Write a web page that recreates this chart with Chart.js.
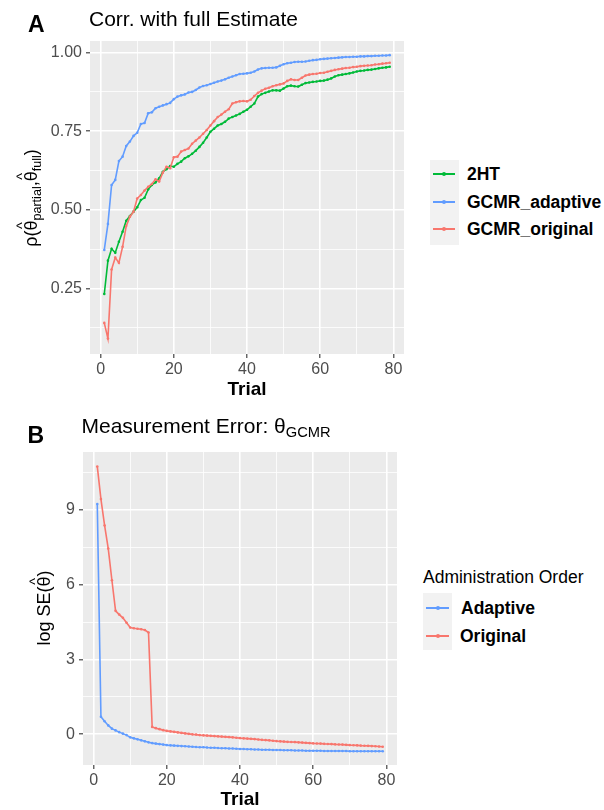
<!DOCTYPE html>
<html>
<head>
<meta charset="utf-8">
<script src="https://cdn.jsdelivr.net/npm/chart.js@4.4.0/dist/chart.umd.min.js"></script>
<style>
  body { margin: 0; background: #fff; font-family: "Liberation Sans", Arial, sans-serif; }
  #wrap { position: relative; width: 604px; height: 810px; overflow: hidden; }
  canvas { position: absolute; left: 0; }
  .t { position: absolute; white-space: nowrap; color: #000; }
  .lbl { font-weight: bold; font-size: 23px; line-height: 23px; }
  .title { font-size: 21px; line-height: 21px; }
  .xt { font-weight: bold; font-size: 19px; line-height: 19px; transform: translateX(-50%); }
  .yt { font-size: 18px; line-height: 20px; transform: translate(-50%, -50%) rotate(-90deg); }
  .yt sub, .title sub { font-size: 0.7em; vertical-align: -0.3em; line-height: 0; }
  .hat { position: relative; display: inline-block; }
  .hat i { position: absolute; left: 0; right: 0; top: -0.62em; text-align: center; font-style: normal; font-size: 0.8em; }
  .box { position: absolute; background: #f2f2f2; }
  .key { position: absolute; height: 2px; }
  .key b { position: absolute; left: 50%; top: -1px; width: 4px; height: 4px; margin-left: -2px; border-radius: 2px; background: inherit; }
  .lg { font-size: 17.5px; line-height: 20px; }
  .lg.b { font-weight: bold; }
</style>
</head>
<body>
<div id="wrap">
  <canvas id="chartA" width="420" height="400" style="top:0"></canvas>
  <canvas id="chartB" width="420" height="410" style="top:400px"></canvas>

  <div class="t lbl" style="left:28px;top:12.5px">A</div>
  <div class="t title" style="left:89px;top:8px">Corr. with full Estimate</div>
  <div class="t xt" style="left:247px;top:379px">Trial</div>
  <div class="t yt" style="left:31px;top:197.5px">ρ(<span class="hat">θ<i>^</i></span><sub>partial</sub>,<span class="hat">θ<i>^</i></span><sub>full</sub>)</div>

  <div class="box" style="left:430px;top:160px;width:29px;height:85px"></div>
  <div class="key" style="left:433px;top:173px;width:22px;background:#00BA38"><b></b></div>
  <div class="key" style="left:433px;top:200.7px;width:22px;background:#619CFF"><b></b></div>
  <div class="key" style="left:433px;top:228px;width:22px;background:#F8766D"><b></b></div>
  <div class="t lg b" style="left:467px;top:164.2px">2HT</div>
  <div class="t lg b" style="left:467px;top:191.9px">GCMR_adaptive</div>
  <div class="t lg b" style="left:467px;top:219.2px">GCMR_original</div>

  <div class="t lbl" style="left:27.5px;top:423.5px">B</div>
  <div class="t title" style="left:81.5px;top:415px">Measurement Error: θ<sub>GCMR</sub></div>
  <div class="t xt" style="left:240px;top:789px">Trial</div>
  <div class="t yt" style="left:44px;top:608px">log SE(<span class="hat">θ<i>^</i></span>)</div>

  <div class="t lg" style="left:423px;top:567.2px">Administration Order</div>
  <div class="box" style="left:423px;top:593px;width:29px;height:57px"></div>
  <div class="key" style="left:426px;top:607px;width:23px;background:#619CFF"><b></b></div>
  <div class="key" style="left:426px;top:635px;width:23px;background:#F8766D"><b></b></div>
  <div class="t lg b" style="left:461px;top:598.2px">Adaptive</div>
  <div class="t lg b" style="left:460px;top:625.5px">Original</div>
</div>

<script>
// trial index 1..79
const trials = Array.from({ length: 79 }, (_, i) => i + 1);

// panel A: correlation with full estimate
const corr2HT = [
  0.232, 0.338, 0.376, 0.363, 0.398, 0.430, 0.465, 0.480, 0.494, 0.508,
  0.531, 0.538, 0.565, 0.579, 0.587, 0.600, 0.621, 0.629, 0.639, 0.637,
  0.646, 0.653, 0.664, 0.670, 0.678, 0.688, 0.700, 0.713, 0.730, 0.748,
  0.758, 0.768, 0.773, 0.780, 0.790, 0.795, 0.800, 0.805, 0.812, 0.818,
  0.828, 0.838, 0.860, 0.868, 0.872, 0.876, 0.880, 0.880, 0.879, 0.886,
  0.893, 0.895, 0.893, 0.892, 0.898, 0.903, 0.905, 0.907, 0.908, 0.910,
  0.911, 0.914, 0.918, 0.924, 0.928, 0.930, 0.932, 0.934, 0.937, 0.940,
  0.942, 0.943, 0.945, 0.946, 0.948, 0.950, 0.952, 0.953, 0.955
];
const corrAdaptive = [
  0.372, 0.455, 0.579, 0.595, 0.655, 0.669, 0.703, 0.717, 0.735, 0.745,
  0.773, 0.776, 0.807, 0.810, 0.823, 0.828, 0.832, 0.836, 0.840, 0.852,
  0.860, 0.864, 0.867, 0.873, 0.875, 0.881, 0.889, 0.894, 0.896, 0.900,
  0.904, 0.908, 0.911, 0.915, 0.920, 0.924, 0.928, 0.932, 0.933, 0.934,
  0.936, 0.940, 0.946, 0.950, 0.951, 0.952, 0.952, 0.953, 0.958, 0.963,
  0.966, 0.968, 0.970, 0.971, 0.971, 0.972, 0.974, 0.976, 0.977, 0.979,
  0.980, 0.981, 0.982, 0.983, 0.984, 0.985, 0.986, 0.986, 0.987, 0.987,
  0.988, 0.988, 0.989, 0.989, 0.990, 0.990, 0.991, 0.991, 0.992
];
const corrOriginal = [
  0.140, 0.090, 0.310, 0.348, 0.331, 0.382, 0.448, 0.478, 0.494, 0.536,
  0.547, 0.561, 0.573, 0.582, 0.597, 0.590, 0.618, 0.637, 0.632, 0.667,
  0.669, 0.685, 0.690, 0.695, 0.710, 0.720, 0.730, 0.742, 0.754, 0.768,
  0.782, 0.795, 0.803, 0.812, 0.820, 0.838, 0.842, 0.845, 0.846, 0.845,
  0.850, 0.862, 0.872, 0.879, 0.885, 0.888, 0.893, 0.896, 0.899, 0.902,
  0.910, 0.915, 0.913, 0.913, 0.920, 0.927, 0.930, 0.932, 0.933, 0.935,
  0.936, 0.939, 0.942, 0.945, 0.947, 0.949, 0.951, 0.952, 0.954, 0.955,
  0.957, 0.958, 0.959, 0.960, 0.962, 0.963, 0.965, 0.966, 0.968
];

// panel B: log SE of theta_GCMR
const seAdaptive = [
  9.24, 0.70, 0.52, 0.35, 0.22, 0.15, 0.08, 0.02, -0.04, -0.13,
  -0.17, -0.21, -0.25, -0.29, -0.33, -0.36, -0.38, -0.40, -0.42, -0.44,
  -0.45, -0.46, -0.47, -0.48, -0.49, -0.50, -0.51, -0.52, -0.525, -0.53,
  -0.54, -0.545, -0.55, -0.56, -0.565, -0.57, -0.575, -0.58, -0.59, -0.60,
  -0.60, -0.605, -0.61, -0.615, -0.62, -0.625, -0.63, -0.63, -0.635, -0.64,
  -0.64, -0.645, -0.65, -0.65, -0.655, -0.66, -0.66, -0.665, -0.665, -0.67,
  -0.67, -0.67, -0.675, -0.675, -0.675, -0.68, -0.68, -0.68, -0.68, -0.685,
  -0.685, -0.685, -0.685, -0.69, -0.69, -0.69, -0.69, -0.69, -0.69
];
const seOriginal = [
  10.75, 9.44, 8.38, 7.45, 6.18, 4.95, 4.80, 4.67, 4.47, 4.28,
  4.25, 4.23, 4.21, 4.18, 4.08, 0.29, 0.24, 0.20, 0.16, 0.13,
  0.11, 0.09, 0.07, 0.05, 0.03, 0.01, -0.01, -0.02, -0.04, -0.05,
  -0.06, -0.07, -0.08, -0.09, -0.10, -0.11, -0.12, -0.13, -0.145, -0.16,
  -0.17, -0.18, -0.19, -0.20, -0.215, -0.23, -0.24, -0.25, -0.265, -0.28,
  -0.29, -0.30, -0.31, -0.315, -0.32, -0.33, -0.34, -0.35, -0.36, -0.37,
  -0.375, -0.38, -0.39, -0.395, -0.40, -0.41, -0.415, -0.42, -0.43, -0.44,
  -0.445, -0.45, -0.46, -0.465, -0.47, -0.48, -0.49, -0.50, -0.51
];

const RED = "#F8766D", GREEN = "#00BA38", BLUE = "#619CFF";
const FONT = "'Liberation Sans', Arial, sans-serif";

const panelBg = {
  id: "panelBg",
  beforeDraw(chart) {
    const { ctx, chartArea: a } = chart;
    ctx.save();
    ctx.fillStyle = "#ebebeb";
    ctx.fillRect(a.left, a.top, a.right - a.left, a.bottom - a.top);
    ctx.restore();
  }
};

function isMult(v, step) {
  return Math.abs(v / step - Math.round(v / step)) < 1e-6;
}

function series(values, color) {
  return {
    data: trials.map((t, i) => ({ x: t, y: values[i] })),
    borderColor: color,
    backgroundColor: color,
    borderWidth: 1.6,
    pointRadius: 1.3,
    pointBorderWidth: 0,
    pointBackgroundColor: color,
    tension: 0
  };
}

function axis(min, max, step, major, fmt, fixedSize, isX) {
  return {
    type: "linear",
    min, max,
    border: { display: false },
    grid: {
      color: "#ffffff",
      lineWidth: c => isMult(c.tick.value, major) ? 1.6 : 0.8,
      drawTicks: true,
      tickLength: 4,
      tickWidth: 1.1,
      tickColor: c => isMult(c.tick.value, major) ? "#333333" : "rgba(0,0,0,0)"
    },
    ticks: {
      stepSize: step,
      includeBounds: false,
      autoSkip: false,
      maxRotation: 0,
      minRotation: 0,
      padding: isX ? 2 : 4,
      color: "#4d4d4d",
      font: { family: FONT, size: 16 },
      callback: v => isMult(v, major) ? fmt(v) : ""
    },
    afterFit: s => {
      if (isX) s.height = fixedSize; else s.width = fixedSize;
    }
  };
}

function makeChart(id, datasets, xOpt, yOpt, padding) {
  return new Chart(document.getElementById(id), {
    type: "line",
    data: { datasets },
    options: {
      responsive: false,
      animation: false,
      layout: { padding },
      plugins: { legend: { display: false }, tooltip: { enabled: false } },
      scales: { x: xOpt, y: yOpt }
    },
    plugins: [panelBg]
  });
}

// red drawn on top (first dataset is painted last)
makeChart("chartA",
  [series(corrOriginal, RED), series(corrAdaptive, BLUE), series(corr2HT, GREEN)],
  axis(-2.9, 82.9, 10, 20, v => String(v), 46, true),
  axis(0.041, 1.037, 0.125, 0.25, v => v.toFixed(2), 90, false),
  { left: 0, right: 16, top: 41, bottom: 0 });

makeChart("chartB",
  [series(seOriginal, RED), series(seAdaptive, BLUE)],
  axis(-2.9, 82.9, 10, 20, v => String(v), 45, true),
  axis(-1.24, 11.33, 1.5, 3, v => String(v), 83, false),
  { left: 0, right: 23, top: 52, bottom: 0 });
</script>
</body>
</html>
